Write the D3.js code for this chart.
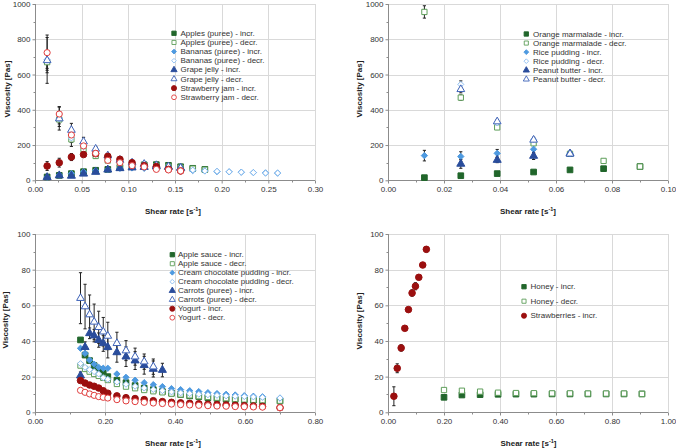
<!DOCTYPE html>
<html><head><meta charset="utf-8">
<script src="https://cdn.jsdelivr.net/npm/d3@7"></script>
<style>
body{margin:0;background:#fff}
svg{display:block}
text{font-family:"Liberation Sans",Arial,sans-serif}
</style>
</head><body>
<svg id="c" width="676" height="448"></svg>
<script>
// ---------- Panel A (top-left) ----------
const xA = [0.013,0.026,0.039,0.052,0.065,0.078,0.091,0.104,0.117,0.130,0.143,0.156,0.169,0.182,0.195,0.208,0.221,0.234,0.247,0.260];
const applesIncr = [19,28,38,49,57,62,72,80,88,89,85,77,68,62];
const applesIncrErr = [5,5,6,6,6,6,8,8,8,8,8,8,6,6];
const applesDecr = [670,345,232,176,138,112,95,88,85,82,78,72,66,60];
const applesDecrErr = [60,40,40,20,12,10,8,8,8,8,6,6,6,6];
const bananasIncr = [18,30,38,48,55,62,68,70,68,65,62,60,56,53,50,48,46,44,42,41];
const bananasDecr = [685,350,240,190,150,120,100,87,78,72,66,60,58,53,51,48,46,44,41,41];
const bananasDecrErr = [50,30,25,15,10,8,6,6,6,5,5,5,5,4,4,4,4,4,4,4];
const grapeIncr = [17,27,25,37,47,60,68,72,75,78,76,70];
const grapeDecr = [680,350,285,219,178,140,115,100,92,85,78,70];
const grapeDecrErr = [130,65,38,25,13,10,8,6,5,4,4,3];
const sJamIncr = [81,100,132,146,151,136,119,100,83,78,62,53];
const sJamIncrErr = [25,25,20,12,10,13,12,10,8,6,6,5];
const sJamDecr = [724,376,257,195,153,113,100,83,76,62,59,53];
const sJamDecrErr = [100,42,28,22,15,12,10,8,6,5,5,4];

// ---------- Panel B (top-right) ----------
const xB = [0.013,0.026,0.039,0.052,0.065,0.077,0.090];
const orangeIncr = [15,26,38,47,59,66,78];
const orangeDecr = [955,469,300,210,150,110,78];
const orangeDecrErr = [35,15,12,10,8,8,6];
const riceIncr = [140,135,153,176,150,null,null];
const riceIncrErr = [30,27,22,25,10,null,null];
const riceDecr = [null,544,325,232,150,null,null];
const riceDecrErr = [null,20,15,12,8,null,null];
const peanutIncr = [null,93,115,138,151,null,null];
const peanutIncrErr = [null,25,15,20,8,null,null];
const peanutDecr = [null,516,333,229,150,null,null];
const peanutDecrErr = [null,20,10,10,8,null,null];

// ---------- Panel C (bottom-left) ----------
const xC = [0.130,0.143,0.156,0.169,0.182,0.195,0.208,0.234,0.260,0.286,0.312,0.338,0.364,0.390,0.416,0.442,0.468,0.494,0.520,0.546,0.572,0.598,0.624,0.650,0.700];
const appleSauceIncr = [40.6,32.1,29,26.2,24.1,21.9,20,18,16.6,15,13.6,12.7,11.6,10.7,10,9.2,8.8,8.2,7.8,7.5,7.2,7.0,6.8,6.5,6.4];
const appleSauceDecr = [26.2,24.3,22.8,21.5,20.4,19.3,18.1,15.9,14.4,13.5,12.5,11.8,11.2,10.5,10.0,9.5,9.0,8.6,8.2,7.9,7.5,7.2,7.0,6.8,6.5];
const creamIncr = [35.9,33,29.3,27,25.2,24.7,24.7,21.5,19.6,18,16.6,15.5,14.4,13.3,12.7,12.1,11.6,11,10.5,10.1,9.7,9.3,9.0,8.7,8.0];
const creamDecr = [27.3,25.2,23.9,22.8,21.5,19.4,18.5,17,15.7,14.6,13.6,12.8,12.1,11.4,10.9,10.5,10.1,9.8,9.5,9.2,9.0,8.8,8.6,8.4,8.0];
const carrotsIncr = [20.6,36.5,44.3,43,40.5,38.7,36.5,33.6,31.2,29,26.4,24.3,23.7];
const carrotsIncrErr = [2,3,3,3.5,4,4.5,6,5.5,5.5,5,5,4.5,3.8];
const carrotsDecr = [64,59.3,54.8,50.7,47.7,45.2,42.8,38.7,34.6,31.2,28.4,25.6];
const carrotsDecrErr = [14.3,12.5,11,10,9,8,7.7,6.2,5.6,4.8,4.3,4.3];
const yogurtIncr = [17.8,16.4,15.3,14.6,13.6,12.1,10.7,9.2,8.2,7.7,7.1,6.5,6.0,5.6,5.3,5.0,4.8,4.5,4.3,4.1,3.9,3.7,3.5,3.3,2.6];
const yogurtDecr = [12.3,11.2,10.3,9.5,8.8,8.4,8.0,7.1,6.4,6.0,5.6,5.2,4.9,4.6,4.3,4.1,3.9,3.7,3.5,3.4,3.2,3.1,3.0,2.9,2.6];

// ---------- Panel D (bottom-right) ----------
const xHoney = [0.200,0.264,0.329,0.393,0.457,0.521,0.586,0.650,0.714,0.779,0.843,0.907];
const honeyIncr = [8.4,9.7,9.9,10.1,10.2,10.2,10.3,10.3,10.3,10.3,10.3,10.3];
const honeyDecr = [12.5,12.1,11.6,11.0,10.8,10.7,10.6,10.6,10.5,10.5,10.5,10.3];
const xStraw = [0.021,0.033,0.047,0.060,0.073,0.086,0.098,0.110,0.124,0.137];
const strawIncr = [9,24.7,36.1,47.1,57.6,66.9,70.7,75.7,82.6,91.4];
const strawIncrErr = [5.3,2.5,1.8,1,1,1.8,2,1,1,1.5];

// ---------- styles ----------
const symRhomb = {draw(ctx,size){const r=Math.sqrt(size/2);ctx.moveTo(0,-r);ctx.lineTo(r,0);ctx.lineTo(0,r);ctx.lineTo(-r,0);ctx.closePath();}};
const styles = {
  sqFill:  {sym:d3.symbolSquare,   fill:"#21662b", stroke:"#21662b"},
  sqOpen:  {sym:d3.symbolSquare,   fill:"#fff",    stroke:"#5e9e5a"},
  diaFill: {sym:symRhomb,          fill:"#4e9ae0", stroke:"#4e9ae0"},
  diaOpen: {sym:symRhomb,          fill:"#fff",    stroke:"#8cbdf0"},
  triFill: {sym:d3.symbolTriangle, fill:"#2a4d9c", stroke:"#2a4d9c"},
  triOpen: {sym:d3.symbolTriangle, fill:"#fff",    stroke:"#3d62b8"},
  cirFill: {sym:d3.symbolCircle,   fill:"#9b0f0f", stroke:"#9b0f0f"},
  cirOpen: {sym:d3.symbolCircle,   fill:"#fff",    stroke:"#e03c3c"}
};
const symSize = {sqFill:32,sqOpen:28,diaFill:20,diaOpen:18,triFill:28,triOpen:26,cirFill:34,cirOpen:30};

const panels = [
  {box:{l:35,r:315,t:4,b:180.3}, xMax:0.30, xStep:0.05, yMax:1000, yStep:200,
   yTitle:{x:7,y:89}, xTitle:{x:173,y:213.5},
   legend:{mx:174, tx:180.5, y0:33.3, dy:9.14},
   series:[
    {name:"Apples (puree) - incr.", st:"sqFill", x:xA, y:applesIncr, e:applesIncrErr},
    {name:"Apples (puree) - decr.", st:"sqOpen", x:xA, y:applesDecr, e:applesDecrErr},
    {name:"Bananas (puree) - incr.", st:"diaFill", x:xA, y:bananasIncr},
    {name:"Bananas (puree) - decr.", st:"diaOpen", x:xA, y:bananasDecr, e:bananasDecrErr},
    {name:"Grape jelly - incr.", st:"triFill", x:xA, y:grapeIncr},
    {name:"Grape jelly - decr.", st:"triOpen", x:xA, y:grapeDecr, e:grapeDecrErr},
    {name:"Strawberry jam - incr.", st:"cirFill", x:xA, y:sJamIncr, e:sJamIncrErr},
    {name:"Strawberry jam - decr.", st:"cirOpen", x:xA, y:sJamDecr, e:sJamDecrErr}
   ]},
  {box:{l:388,r:668,t:4,b:180.3}, xMax:0.10, xStep:0.02, yMax:1000, yStep:200,
   yTitle:{x:359,y:89}, xTitle:{x:528,y:213.5},
   legend:{mx:526.3, tx:533, y0:34, dy:9.06},
   series:[
    {name:"Orange marmalade - incr.", st:"sqFill", x:xB, y:orangeIncr},
    {name:"Orange marmalade - decr.", st:"sqOpen", x:xB, y:orangeDecr, e:orangeDecrErr},
    {name:"Rice pudding - incr.", st:"diaFill", x:xB, y:riceIncr, e:riceIncrErr},
    {name:"Rice pudding - decr.", st:"diaOpen", x:xB, y:riceDecr, e:riceDecrErr},
    {name:"Peanut butter - incr.", st:"triFill", x:xB, y:peanutIncr, e:peanutIncrErr},
    {name:"Peanut butter - decr.", st:"triOpen", x:xB, y:peanutDecr, e:peanutDecrErr}
   ]},
  {box:{l:35,r:315,t:234,b:412.3}, xMax:0.80, xStep:0.20, yMax:100, yStep:20,
   yTitle:{x:5,y:320}, xTitle:{x:173,y:446},
   legend:{mx:172.3, tx:178, y0:254.7, dy:9.0},
   series:[
    {name:"Apple sauce - incr.", st:"sqFill", x:xC, y:appleSauceIncr},
    {name:"Apple sauce - decr.", st:"sqOpen", x:xC, y:appleSauceDecr},
    {name:"Cream chocolate pudding - incr.", st:"diaFill", x:xC, y:creamIncr},
    {name:"Cream chocolate pudding - decr.", st:"diaOpen", x:xC, y:creamDecr},
    {name:"Carrots (puree) - incr.", st:"triFill", x:xC, y:carrotsIncr, e:carrotsIncrErr},
    {name:"Carrots (puree) - decr.", st:"triOpen", x:xC, y:carrotsDecr, e:carrotsDecrErr},
    {name:"Yogurt - incr.", st:"cirFill", x:xC, y:yogurtIncr},
    {name:"Yogurt - decr.", st:"cirOpen", x:xC, y:yogurtDecr}
   ]},
  {box:{l:388,r:668,t:234,b:412.3}, xMax:1.00, xStep:0.20, yMax:100, yStep:20,
   yTitle:{x:359,y:321}, xTitle:{x:528.5,y:446},
   legend:{mx:524, tx:530.5, y0:286.7, dy:14.5},
   series:[
    {name:"Honey - incr.", st:"sqFill", x:xHoney, y:honeyIncr},
    {name:"Honey - decr.", st:"sqOpen", x:xHoney, y:honeyDecr},
    {name:"Strawberries - incr.", st:"cirFill", x:xStraw, y:strawIncr, e:strawIncrErr}
   ]}
];

const svg = d3.select("#c");

function drawPanel(p){
  const g = svg.append("g");
  const x = d3.scaleLinear().domain([0,p.xMax]).range([p.box.l,p.box.r]);
  const y = d3.scaleLinear().domain([0,p.yMax]).range([p.box.b,p.box.t]);
  const xt = d3.range(0, p.xMax + p.xStep/2, p.xStep);
  const yt = d3.range(0, p.yMax + p.yStep/2, p.yStep);
  const ytMinor = d3.range(p.yStep/2, p.yMax, p.yStep);
  const xtMinor = d3.range(p.xStep/2, p.xMax, p.xStep);
  const cr = v => Math.round(v)+0.5;

  g.selectAll(".gy").data(yt.slice(1)).join("line")
    .attr("x1",p.box.l).attr("x2",p.box.r).attr("y1",d=>cr(y(d))).attr("y2",d=>cr(y(d)))
    .attr("stroke","#d9d9d9").attr("stroke-width",1);
  g.selectAll(".gx").data(xt.slice(1)).join("line")
    .attr("y1",p.box.t).attr("y2",p.box.b).attr("x1",d=>cr(x(d))).attr("x2",d=>cr(x(d)))
    .attr("stroke","#d9d9d9").attr("stroke-width",1);

  const fmtX = d3.format(".2f");
  const yAx = g.append("g").attr("transform",`translate(${cr(p.box.l)},0)`)
    .call(d3.axisLeft(y).tickValues(yt).tickFormat(d3.format("d")).tickSize(3).tickPadding(2));
  const xAx = g.append("g").attr("transform",`translate(0,${cr(p.box.b)})`)
    .call(d3.axisBottom(x).tickValues(xt).tickFormat(fmtX).tickSize(3).tickPadding(3));
  [yAx,xAx].forEach(a=>{
    a.select(".domain").attr("stroke","#8c8c8c");
    a.selectAll(".tick line").attr("stroke","#8c8c8c");
    a.selectAll("text").attr("font-size",8).attr("fill","#333").attr("font-family",'"Liberation Sans",Arial,sans-serif');
  });
  yAx.select(".domain").attr("d",`M0,${p.box.b}V${p.box.t}`);
  xAx.select(".domain").attr("d",`M${p.box.l},0H${p.box.r}`);
  g.selectAll(".my").data(ytMinor).join("line")
    .attr("x1",cr(p.box.l)-2).attr("x2",cr(p.box.l)).attr("y1",d=>cr(y(d))).attr("y2",d=>cr(y(d)))
    .attr("stroke","#8c8c8c");
  g.selectAll(".mx").data(xtMinor).join("line")
    .attr("y1",cr(p.box.b)).attr("y2",cr(p.box.b)+2).attr("x1",d=>cr(x(d))).attr("x2",d=>cr(x(d)))
    .attr("stroke","#8c8c8c");

  g.append("text").attr("transform",`translate(${p.yTitle.x},${p.yTitle.y}) rotate(-90)`)
    .attr("text-anchor","middle").attr("dominant-baseline","central")
    .attr("font-size",8).attr("font-weight","bold").attr("fill","#222")
    .text("Viscosity [Pas]");
  const xtT = g.append("text").attr("x",p.xTitle.x).attr("y",p.xTitle.y)
    .attr("text-anchor","middle").attr("font-size",8).attr("font-weight","bold").attr("fill","#222");
  xtT.append("tspan").text("Shear rate [s");
  xtT.append("tspan").attr("dy",-3).attr("font-size",5.5).text("-1");
  xtT.append("tspan").attr("dy",3).text("]");

  const pts = p.series.map(s => s.x.map((xv,i)=>({x:xv, y:s.y[i], e:s.e?s.e[i]:null, st:s.st}))
      .filter(d=>d.y!=null && d.y!==undefined));

  const eg = g.append("g").attr("stroke","#222").attr("stroke-width",1);
  pts.forEach(arr=>{
    arr.filter(d=>d.e!=null).forEach(d=>{
      const xx = x(d.x), y1 = y(d.y+d.e), y2 = y(Math.max(0,d.y-d.e));
      eg.append("line").attr("x1",xx).attr("x2",xx).attr("y1",y1).attr("y2",y2);
      eg.append("line").attr("x1",xx-1.6).attr("x2",xx+1.6).attr("y1",y1).attr("y2",y1);
      eg.append("line").attr("x1",xx-1.6).attr("x2",xx+1.6).attr("y1",y2).attr("y2",y2);
    });
  });

  pts.forEach(arr=>{
    if(!arr.length) return;
    const st = styles[arr[0].st];
    const sym = d3.symbol().type(st.sym).size(symSize[arr[0].st]);
    g.append("g").selectAll("path").data(arr).join("path")
      .attr("d",sym)
      .attr("transform",d=>`translate(${x(d.x)},${y(d.y)})`)
      .attr("fill",st.fill).attr("stroke",st.stroke).attr("stroke-width",1);
  });

  const lg = g.append("g");
  p.series.forEach((s,i)=>{
    const st = styles[s.st];
    const yy = p.legend.y0 + i*p.legend.dy;
    lg.append("path").attr("d",d3.symbol().type(st.sym).size(symSize[s.st]*0.6)())
      .attr("transform",`translate(${p.legend.mx},${yy})`)
      .attr("fill",st.fill).attr("stroke",st.stroke).attr("stroke-width",0.9);
    lg.append("text").attr("x",p.legend.tx).attr("y",yy).attr("dominant-baseline","central")
      .attr("font-size",8).attr("fill","#333").text(s.name);
  });
}
panels.forEach(drawPanel);
</script>
</body></html>
